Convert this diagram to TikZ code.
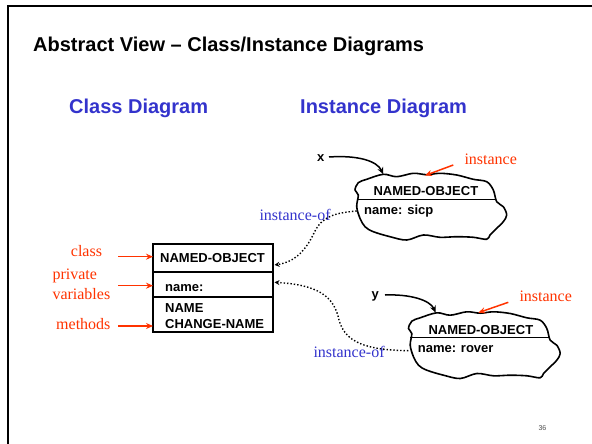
\documentclass[tikz,border=0pt]{standalone}
\usepackage{fontspec}
\setmainfont{Liberation Serif}
\setsansfont{Liberation Sans}
\usetikzlibrary{arrows.meta}
\definecolor{notered}{RGB}{255,51,0}
\definecolor{headblue}{RGB}{51,51,204}
\tikzset{
  title/.style={font=\sffamily\bfseries\fontsize{20}{24}\selectfont, anchor=base west, inner sep=0pt},
  heading/.style={font=\sffamily\bfseries\fontsize{20}{24}\selectfont, text=headblue, anchor=base west, inner sep=0pt},
  boxtext/.style={font=\sffamily\bfseries\fontsize{13}{15}\selectfont, anchor=base west, inner sep=0pt},
  note/.style={font=\fontsize{16}{18}\selectfont, text=notered, anchor=base west, inner sep=0pt},
  relnote/.style={font=\fontsize{16}{18}\selectfont, text=headblue, anchor=base west, inner sep=0pt},
  pointer/.style={draw=notered, line width=1.5pt, -{Stealth[length=7pt,width=6pt]}},
  varref/.style={draw=black, line width=1.5pt, -{Stealth[length=7pt,width=6pt]}},
  ofref/.style={draw=black, line width=1.4pt, dotted, -{Stealth[length=5pt,width=5pt]}},
  outline/.style={draw=black, line width=1.5pt},
  cloudpic/.pic={
    \draw[line width=1.6pt, line join=round] plot[smooth cycle, tension=0.55] coordinates {
      (3.3,9.7) (11.7,6.3) (28.3,1.3) (41.7,3.7) (58.3,0.3) (71.7,1.7) (85,0.3)
      (101.7,2) (118.3,6.3) (131.7,8.7) (138.3,17) (141.7,28.7) (148.3,33.7)
      (151.7,42) (148.3,48.7) (141.7,55.3) (135,62) (131.7,66.3) (118.3,64.3)
      (101.7,63.7) (85,64.3) (68.3,62) (51.7,67) (35,63.7) (18.3,58.7) (10,53.7)
      (5,45.3) (1.7,33.7) (3.3,22) (0,17)};
    \draw[line width=1.2pt] (1.5,26.3) -- (140.5,26.3);
  }
}
\begin{document}
\begin{tikzpicture}[x=1pt, y=-1pt]
\useasboundingbox (0,0) rectangle (592,444);

% slide frame (top and left edges)
\draw[line width=2.2pt] (8,444) -- (8,5.7) -- (592,5.7);

% headings
\node[title] (ttl) at (33,51.5) {Abstract View -- Class/Instance Diagrams};
\node[heading] (hclass) at (69,113.3) {Class Diagram};
\node[heading] (hinst) at (300,113.3) {Instance Diagram};

% class box
\draw[outline] (153,244) rectangle (273,332);
\draw[outline] (153,272) -- (273,272);
\draw[outline] (153,297) -- (273,297);
\coordinate (boxclass) at (153,256.7);
\coordinate (boxvars) at (153,285.7);
\coordinate (boxmeth) at (153,326);
\coordinate (boxtop) at (274.5,265);
\coordinate (boxmid) at (274.5,282.3);
\node[boxtext] (cname) at (160,262.7) {NAMED-OBJECT};
\node[boxtext] (cvar) at (165,291.7) {name:};
\node[boxtext] (cm1) at (165,312.7) {NAME};
\node[boxtext] (cm2) at (165,328.3) {CHANGE-NAME};

% labels on the left
\node[note] (lclass) at (70.7,256) {class};
\node[note] (lpriv) at (52.3,279) {private};
\node[note] (lvars) at (52.3,299) {variables};
\node[note] (lmeth) at (56,329.3) {methods};
\coordinate (aclass) at (118,256.7);
\coordinate (avars) at (118,285.7);
\coordinate (ameth) at (118,326);
\draw[pointer] (aclass) -- (boxclass);
\draw[pointer] (avars) -- (boxvars);
\draw[pointer] (ameth) -- (boxmeth);

% first instance
\pic at (355,173) {cloudpic};
\node[boxtext] (i1name) at (373.3,195.7) {NAMED-OBJECT};
\node[boxtext] (i1var) at (364,214) {name: sicp};
\node[font=\sffamily\bfseries\fontsize{13}{15}\selectfont, anchor=base west, inner sep=0pt] (xvar) at (317,161.7) {x};
\coordinate (xstart) at (329,157);
\coordinate (xend) at (383.3,174.3);
\draw[varref] (xstart) .. controls (358,155) and (377,161) .. (xend);
\node[note] (inst1) at (464.3,164) {instance};
\coordinate (inst1a) at (453.3,165);
\coordinate (inst1b) at (425,175.5);
\draw[pointer] (inst1a) -- (inst1b);
\node[relnote] (of1) at (259.3,220) {instance-of};
\coordinate (of1s) at (356.7,211);
\draw[ofref] (of1s) .. controls (335,213) and (322,216) .. (314,233)
  .. controls (306,250) and (295,262) .. (boxtop);

% second instance
\pic at (408.5,311.5) {cloudpic};
\node[boxtext] (i2name) at (428.3,334) {NAMED-OBJECT};
\node[boxtext] (i2var) at (417.7,352.7) {name: rover};
\node[font=\sffamily\bfseries\fontsize{13}{15}\selectfont, anchor=base west, inner sep=0pt] (yvar) at (371.5,298.5) {y};
\coordinate (ystart) at (385,295);
\coordinate (yend) at (435.7,312.7);
\draw[varref] (ystart) .. controls (410,294) and (430,300) .. (yend);
\node[note] (inst2) at (519.3,301.7) {instance};
\coordinate (inst2a) at (508.3,302.3);
\coordinate (inst2b) at (478.3,312.7);
\draw[pointer] (inst2a) -- (inst2b);
\node[relnote] (of2) at (313.3,357.3) {instance-of};
\coordinate (of2s) at (408.3,350.7);
\draw[ofref] (of2s) .. controls (365,350) and (345,342) .. (339,320)
  .. controls (334,296) and (318,285) .. (boxmid);

% page number
\node[font=\sffamily\fontsize{7}{8}\selectfont, text=black!70, anchor=base west, inner sep=0pt] (pnum) at (538.3,430) {36};
\end{tikzpicture}
\end{document}
